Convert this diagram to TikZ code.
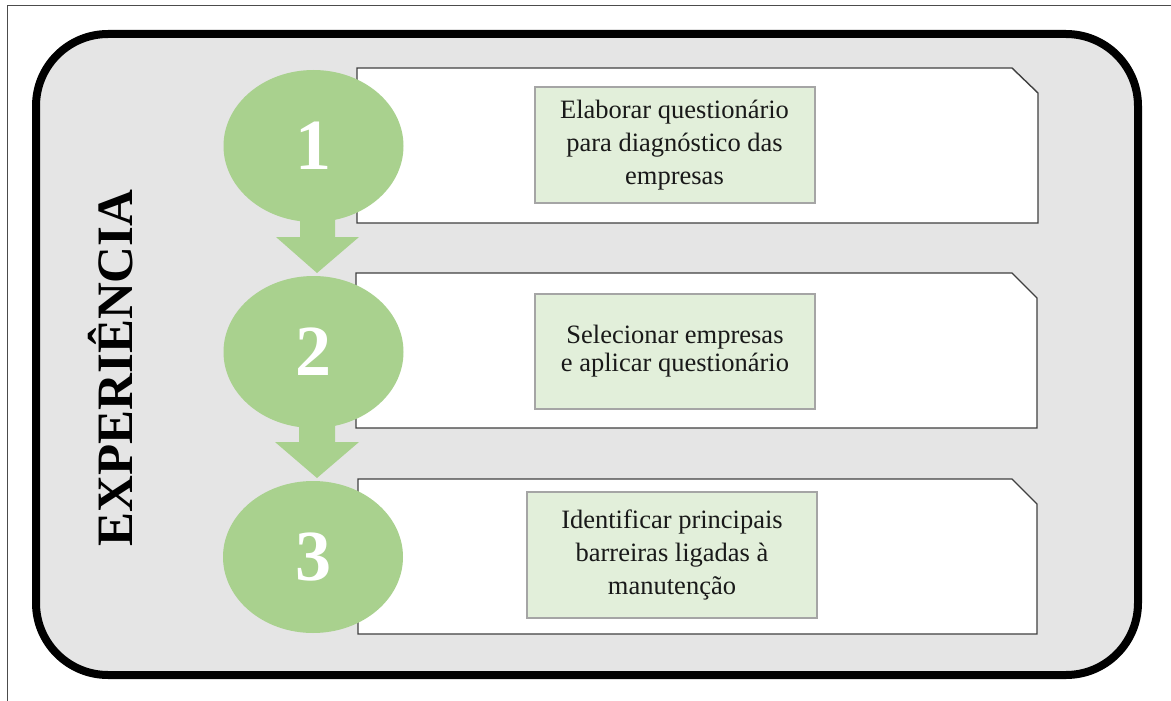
\documentclass[tikz,border=0pt]{standalone}
\usepackage{fontspec}
\setmainfont{Liberation Serif}
\usetikzlibrary{shapes.geometric}
\definecolor{circgreen}{HTML}{A9D18E}
\definecolor{boxgreen}{HTML}{E2EFDA}
\definecolor{panelgray}{HTML}{E5E5E5}
\definecolor{boxborder}{HTML}{A5A5A5}
\definecolor{stepline}{HTML}{404040}
\newcommand{\lowernum}[1]{\raisebox{-8pt}{#1}}
\tikzset{
  numcircle/.style={ellipse, fill=circgreen, minimum width=180, minimum height=152, inner sep=0pt,
    text=white, font=\fontsize{72}{72}\selectfont\bfseries},
  textbox/.style={rectangle, fill=boxgreen, draw=boxborder, line width=2pt, align=center,
    text=black!90, font=\fontsize{26.5}{33}\selectfont, inner sep=0pt},
  stepcard/.style={fill=white, draw=stepline, line width=1.4pt},
  downarrow/.style={fill=circgreen}
}
\begin{document}
\begin{tikzpicture}[x=1pt,y=-1pt]
\useasboundingbox (0,0) rectangle (1171,701);
% thin outer frame
\draw[gray!60!black, line width=1pt] (7.5,701) -- (7.5,6) -- (1171,6);
% rounded panel
\draw[fill=panelgray, line width=8pt, rounded corners=72pt] (36,34) rectangle (1138,675);
% step cards with cut corner
\draw[stepcard] (357,68) -- (1012,68) -- (1038,93) -- (1038,223) -- (357,223) -- cycle;
\draw[stepcard] (356,273) -- (1012,273) -- (1037,298) -- (1037,428) -- (356,428) -- cycle;
\draw[stepcard] (358,479) -- (1012,479) -- (1037,504) -- (1037,634) -- (358,634) -- cycle;
% numbered ellipses
\node[numcircle] (c1) at (313.5,146) {\lowernum{1}};
\node[numcircle] (c2) at (313.5,352) {\lowernum{2}};
\node[numcircle] (c3) at (313,557) {\lowernum{3}};
% down arrows
\fill[downarrow] (300,200) -- (335,200) -- (335,237) -- (359,237) -- (317,273)
  -- (276,237) -- (300,237) -- cycle;
\fill[downarrow] (299,405) -- (335,405) -- (335,442) -- (359,442) -- (317,478)
  -- (275,442) -- (299,442) -- cycle;
% text boxes
\node[textbox, minimum width=280, minimum height=116] (t1) at (674.5,145) {Elaborar questionário\\para diagnóstico das\\empresas};
\node[textbox, minimum width=280, minimum height=115] (t2) at (675,351) {\raisebox{-3pt}{\shortstack{Selecionar empresas\\[1pt]e aplicar questionário}}};
\node[textbox, minimum width=290, minimum height=126] (t3) at (672,555) {Identificar principais\\barreiras ligadas à\\manutenção};
% vertical title
\node[rotate=90, font=\fontsize{51}{51}\selectfont\bfseries, text=black] (title) at (111,368) {EXPERIÊNCIA};
\end{tikzpicture}
\end{document}
